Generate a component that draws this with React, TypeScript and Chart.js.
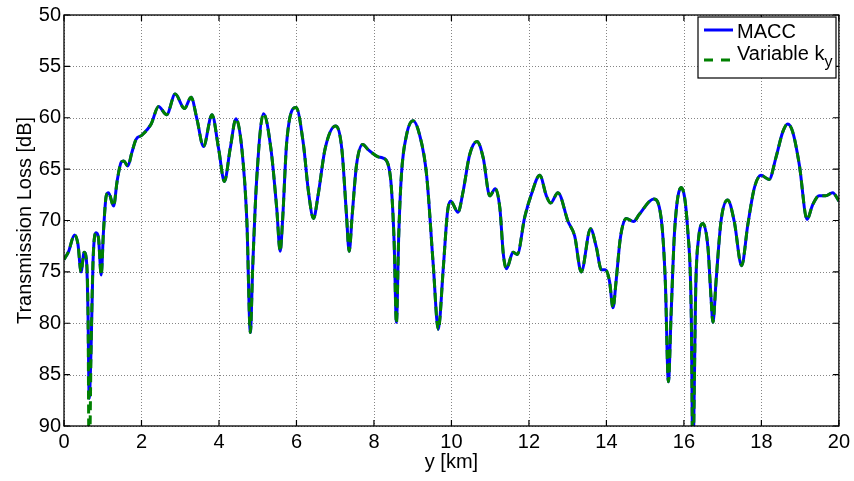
import React, { useEffect, useRef } from "react";
import { Chart, registerables } from "chart.js";

Chart.register(...registerables);

// Range along track [km]
const rangeKm = [
  0.0, 0.12, 0.27, 0.36, 0.44, 0.52, 0.58, 0.62, 0.65, 0.7, 0.75, 0.83, 0.89, 0.96,
  1.02, 1.09, 1.15, 1.28, 1.37, 1.48, 1.54, 1.65, 1.75, 1.86, 2.01, 2.25, 2.44, 2.65,
  2.87, 3.11, 3.28, 3.43, 3.6, 3.82, 3.99, 4.14, 4.29, 4.44, 4.59, 4.72, 4.81, 4.87,
  4.97, 5.15, 5.34, 5.49, 5.58, 5.64, 5.75, 5.99, 6.18, 6.31, 6.44, 6.56, 6.74, 7.01,
  7.17, 7.29, 7.36, 7.44, 7.55, 7.71, 7.85, 8.11, 8.22, 8.37, 8.45, 8.52, 8.58, 8.64,
  8.71, 8.84, 9.01, 9.18, 9.36, 9.53, 9.66, 9.79, 9.9, 9.98, 10.17, 10.3, 10.47, 10.66,
  10.82, 10.99, 11.13, 11.25, 11.34, 11.42, 11.59, 11.7, 11.89, 12.06, 12.28, 12.45,
  12.56, 12.75, 13.01, 13.18, 13.35, 13.59, 13.74, 13.87, 13.97, 14.08, 14.17, 14.25,
  14.36, 14.51, 14.7, 14.85, 15.22, 15.41, 15.52, 15.6, 15.67, 15.76, 15.93, 16.1,
  16.19, 16.23, 16.31, 16.38, 16.49, 16.62, 16.7, 16.75, 16.83, 16.96, 17.13, 17.3,
  17.49, 17.65, 17.82, 17.99, 18.2, 18.38, 18.55, 18.68, 18.81, 18.98, 19.18, 19.32,
  19.49, 19.66, 19.84, 20.0,
];

// MACC transmission loss [dB]
const maccDb = [
  73.8, 73.0, 71.4, 72.3, 75.0, 73.1, 73.9, 79.1, 87.3, 82.3, 73.9, 71.2, 71.7, 75.3,
  71.0, 67.6, 67.3, 68.6, 66.2, 64.3, 64.2, 64.7, 63.4, 62.1, 61.7, 60.6, 58.9, 59.7,
  57.7, 59.1, 58.0, 60.1, 62.8, 59.7, 63.0, 66.2, 63.0, 60.1, 63.0, 70.1, 80.9, 74.6,
  66.2, 59.6, 63.0, 68.8, 73.0, 70.1, 62.3, 59.0, 62.6, 67.2, 69.8, 67.5, 63.0, 60.8,
  63.0, 69.4, 73.0, 69.4, 64.6, 62.6, 63.1, 63.8, 63.9, 64.6, 66.8, 72.0, 79.9, 71.4,
  65.5, 61.7, 60.3, 61.7, 65.6, 74.3, 80.6, 74.6, 69.1, 68.1, 69.2, 67.2, 63.6, 62.3,
  63.9, 67.6, 66.9, 68.8, 73.3, 74.7, 73.1, 73.3, 69.7, 67.5, 65.6, 67.6,
  68.3, 67.3, 70.1, 71.5, 75.0, 70.8, 72.6, 74.8, 74.8, 75.9, 78.5, 75.9,
  71.7, 69.8, 70.1, 69.4, 67.9, 69.7, 75.9, 85.7, 79.1, 71.0, 66.8, 71.0,
  79.1, 93.0, 75.9, 71.7, 70.3, 72.6, 77.5, 79.9, 75.9, 70.0, 68.0, 70.1,
  74.4, 70.4, 66.8, 65.6, 66.0, 63.8, 61.4, 60.6, 61.4, 64.6, 69.9, 68.5,
  67.6, 67.6, 67.3, 68.1,
];

// Variable k_y transmission loss [dB]
const variableKyDb = [
  73.8, 73.0, 71.4, 72.3, 75.0, 73.1, 73.9, 79.1, 95.0, 82.3, 73.9, 71.2, 71.7, 75.3,
  71.0, 67.6, 67.3, 68.6, 66.2, 64.3, 64.2, 64.7, 63.4, 62.1, 61.7, 60.6, 58.9, 59.7,
  57.7, 59.1, 58.0, 60.1, 62.8, 59.7, 63.0, 66.2, 63.0, 60.1, 63.0, 70.1, 80.9, 74.6,
  66.2, 59.6, 63.0, 68.8, 73.0, 70.1, 62.3, 59.0, 62.6, 67.2, 69.8, 67.5, 63.0, 60.8,
  63.0, 69.4, 73.0, 69.4, 64.6, 62.6, 63.1, 63.8, 63.9, 64.6, 66.8, 72.0, 80.0, 71.4,
  65.5, 61.7, 60.3, 61.7, 65.6, 74.3, 80.6, 74.6, 69.1, 68.1, 69.2, 67.2, 63.6, 62.3,
  63.9, 67.6, 66.9, 68.8, 73.3, 74.7, 73.1, 73.3, 69.7, 67.5, 65.6, 67.6,
  68.3, 67.3, 70.1, 71.5, 75.0, 70.8, 72.6, 74.8, 74.8, 75.9, 78.5, 75.9,
  71.7, 69.8, 70.1, 69.4, 67.9, 69.7, 75.9, 85.7, 79.1, 71.0, 66.8, 71.0,
  79.1, 93.0, 75.9, 71.7, 70.3, 72.6, 77.5, 79.9, 75.9, 70.0, 68.0, 70.1,
  74.4, 70.4, 66.8, 65.6, 66.0, 63.8, 61.4, 60.6, 61.4, 64.6, 69.9, 68.5,
  67.6, 67.6, 67.3, 68.1,
];

const xTicks = [0, 2, 4, 6, 8, 10, 12, 14, 16, 18, 20];
const yTicks = [50, 55, 60, 65, 70, 75, 80, 85, 90];

const xTitle = "y [km]";
const yTitle = "Transmission Loss [dB]";
const legendLabels = ["MACC", "Variable k"];
const legendSub = "y";

const FONT = "'Liberation Sans', Arial, Helvetica, sans-serif";
const BLUE = "#0000ff";
const GREEN = "#008000";

const overlayPlugin = {
  id: "overlay",
  beforeDatasetsDraw(chart: any) {
    const { ctx, chartArea: a, scales } = chart;
    ctx.save();
    ctx.strokeStyle = "#858585";
    ctx.lineWidth = 1;
    ctx.setLineDash([1, 2]);
    xTicks.forEach((v) => {
      const px = Math.round(scales.x.getPixelForValue(v)) + 0.5;
      ctx.beginPath();
      ctx.moveTo(px, a.top);
      ctx.lineTo(px, a.bottom);
      ctx.stroke();
    });
    yTicks.forEach((v) => {
      const py = Math.round(scales.y.getPixelForValue(v)) + 0.5;
      ctx.beginPath();
      ctx.moveTo(a.left, py);
      ctx.lineTo(a.right, py);
      ctx.stroke();
    });
    ctx.restore();
  },
  afterDraw(chart: any) {
    const { ctx, chartArea: a, scales } = chart;
    ctx.save();
    // Box
    ctx.strokeStyle = "#000";
    ctx.lineWidth = 1.3;
    ctx.setLineDash([]);
    ctx.strokeRect(a.left, a.top, a.right - a.left, a.bottom - a.top);
    // Inward ticks
    const tl = 6;
    ctx.lineWidth = 1.2;
    xTicks.forEach((v) => {
      const px = scales.x.getPixelForValue(v);
      ctx.beginPath();
      ctx.moveTo(px, a.bottom);
      ctx.lineTo(px, a.bottom - tl);
      ctx.moveTo(px, a.top);
      ctx.lineTo(px, a.top + tl);
      ctx.stroke();
    });
    yTicks.forEach((v) => {
      const py = scales.y.getPixelForValue(v);
      ctx.beginPath();
      ctx.moveTo(a.left, py);
      ctx.lineTo(a.left + tl, py);
      ctx.moveTo(a.right, py);
      ctx.lineTo(a.right - tl, py);
      ctx.stroke();
    });
    // Axis titles
    ctx.fillStyle = "#000";
    ctx.font = `20px ${FONT}`;
    ctx.textAlign = "center";
    ctx.textBaseline = "alphabetic";
    ctx.fillText(xTitle, (a.left + a.right) / 2, 468);
    ctx.save();
    ctx.translate(31, (a.top + a.bottom) / 2);
    ctx.rotate(-Math.PI / 2);
    ctx.fillText(yTitle, 0, 0);
    ctx.restore();

    // Legend
    const lx = 698, ly = 17, lw = 138, lh = 61;
    ctx.fillStyle = "#fff";
    ctx.fillRect(lx, ly, lw, lh);
    ctx.strokeStyle = "#000";
    ctx.lineWidth = 1.2;
    ctx.strokeRect(lx, ly, lw, lh);
    ctx.lineWidth = 3;
    ctx.strokeStyle = BLUE;
    ctx.beginPath();
    ctx.moveTo(704, 30);
    ctx.lineTo(733, 30);
    ctx.stroke();
    ctx.strokeStyle = GREEN;
    ctx.setLineDash([9, 8]);
    ctx.beginPath();
    ctx.moveTo(704, 60);
    ctx.lineTo(733, 60);
    ctx.stroke();
    ctx.setLineDash([]);
    ctx.fillStyle = "#000";
    ctx.textAlign = "left";
    ctx.textBaseline = "alphabetic";
    ctx.font = `20px ${FONT}`;
    ctx.fillText(legendLabels[0], 737, 38);
    ctx.fillText(legendLabels[1], 737, 60);
    const w = ctx.measureText(legendLabels[1]).width;
    ctx.font = `16px ${FONT}`;
    ctx.fillText(legendSub, 737 + w, 67);
    ctx.restore();
  },
};

export default function App() {
  const ref = useRef<HTMLCanvasElement | null>(null);
  useEffect(() => {
    if (!ref.current) return;
    const maccPts = rangeKm.map((x, i) => ({ x, y: maccDb[i] }));
    const varPts = rangeKm.map((x, i) => ({ x, y: variableKyDb[i] }));
    const chart = new Chart(ref.current, {
      type: "line",
      data: {
        datasets: [
          {
            label: "MACC",
            data: maccPts,
            borderColor: BLUE,
            borderWidth: 3,
            pointRadius: 0,
            cubicInterpolationMode: "monotone",
            fill: false,
            order: 1,
          },
          {
            label: "Variable k_y",
            data: varPts,
            borderColor: GREEN,
            borderWidth: 3,
            borderDash: [9, 5],
            pointRadius: 0,
            cubicInterpolationMode: "monotone",
            fill: false,
            order: 0,
          },
        ],
      },
      options: {
        responsive: false,
        animation: false,
        layout: { padding: { left: 0, right: 14, top: 13, bottom: 0 } },
        plugins: { legend: { display: false }, tooltip: { enabled: false } },
        scales: {
          x: {
            type: "linear",
            min: 0,
            max: 20,
            grid: { display: false, drawTicks: false },
            border: { display: false },
            ticks: {
              stepSize: 2,
              padding: 4,
              color: "#000",
              font: { size: 20, family: FONT },
              maxRotation: 0,
            },
            afterFit: (s: any) => {
              s.height = 55;
            },
          },
          y: {
            type: "linear",
            min: 50,
            max: 90,
            reverse: true,
            grid: { display: false, drawTicks: false },
            border: { display: false },
            ticks: {
              stepSize: 5,
              padding: 3,
              color: "#000",
              font: { size: 20, family: FONT },
            },
            afterFit: (s: any) => {
              s.width = 64;
            },
          },
        },
      },
      plugins: [overlayPlugin],
    });
    return () => chart.destroy();
  }, []);
  return (
    <div style={{ position: "absolute", left: 0, top: 0, width: 854, height: 481, background: "#fff" }}>
      <canvas ref={ref} width={854} height={481} style={{ display: "block" }} />
    </div>
  );
}
